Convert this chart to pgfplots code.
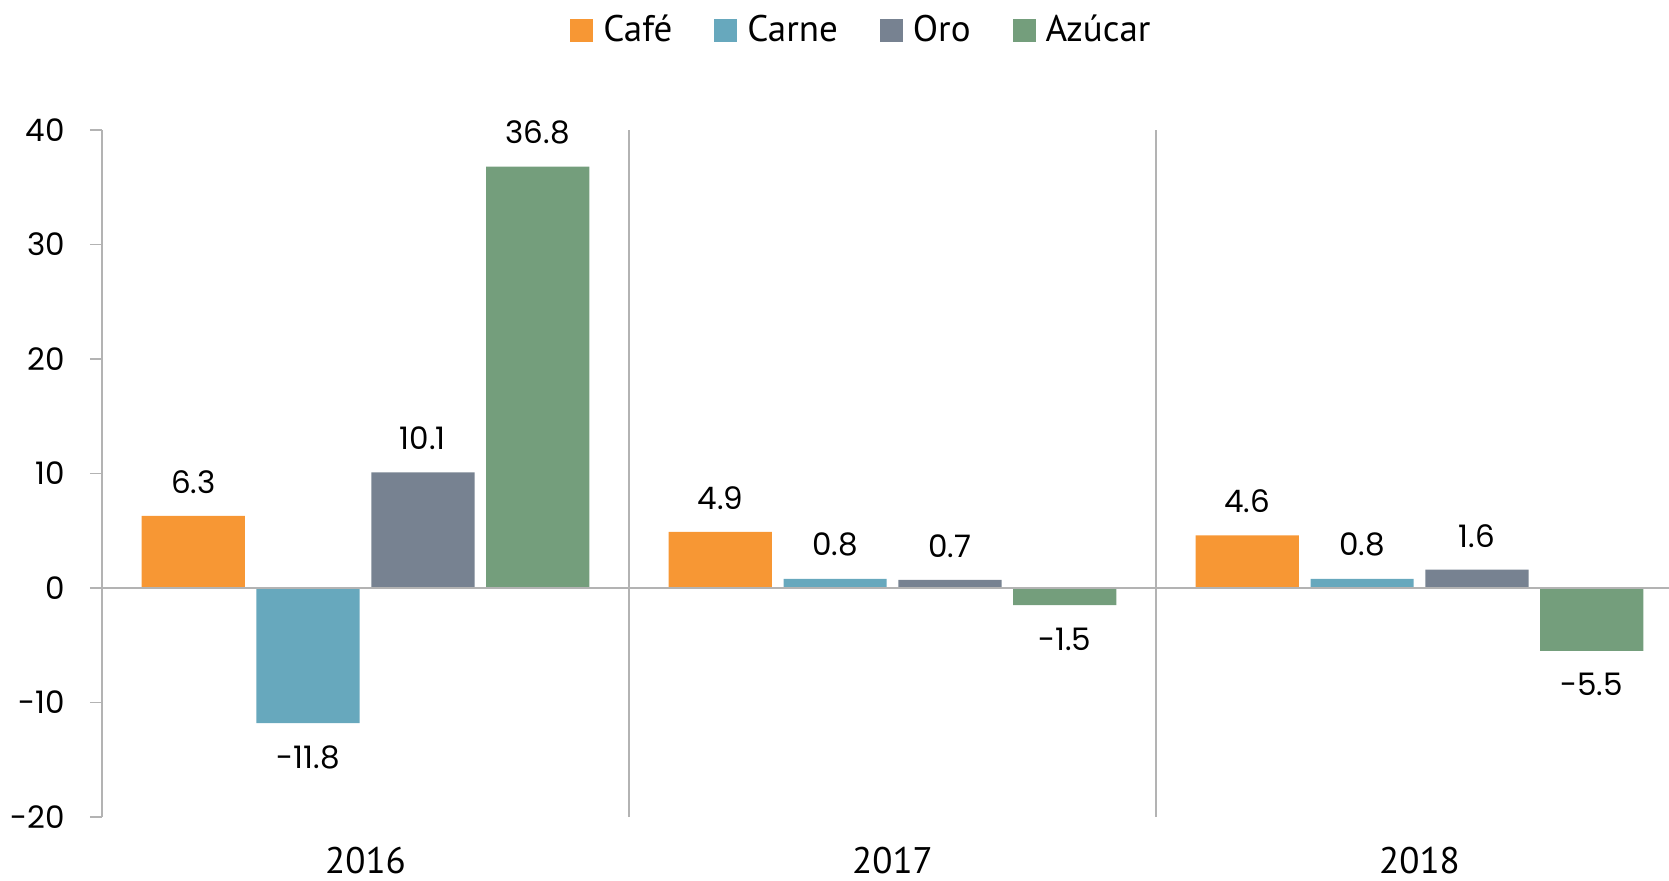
\documentclass[border=0pt]{standalone}
\usepackage{pgfplots}
\pgfplotsset{compat=1.18}
\usepackage{fontspec}
\setmainfont{Poppins}
\newfontfamily\legfont{PT Sans}
\definecolor{cafe}{HTML}{F79734}
\definecolor{carne}{HTML}{67A8BD}
\definecolor{oro}{HTML}{778291}
\definecolor{azucar}{HTML}{749E7C}
\definecolor{axgray}{HTML}{B3B3B3}
\pgfplotsset{sq legend/.style={legend image code/.code={\fill[##1,draw=none] (0bp,-5.75bp) rectangle (11.5bp,5.75bp);}}}
\begin{document}
\begin{tikzpicture}
\begin{axis}[
  scale only axis,
  width=790.5bp, height=343.5bp,
  at={(0,0)}, anchor=south west,
  xmin=-0.5, xmax=2.5, ymin=-20, ymax=40,
  ybar=5.8bp, bar width=51.6bp,
  axis y line*=left, axis x line*=bottom,
  x axis line style={draw=none},
  y axis line style={axgray, line width=0.8bp},
  ytick={-20,-10,0,10,20,30,40},
  ytick style={axgray, line width=0.8bp},
  tick align=outside, major tick length=6bp,
  yticklabel style={font=\fontsize{15.5bp}{18bp}\selectfont, anchor=east, xshift=-9bp},
  xtick={0.5,1.5}, xticklabels={},
  xtick style={draw=none},
  xmajorgrids, major grid style={axgray, line width=0.8bp},
  extra x ticks={0,1,2}, extra x tick labels={2016,2017,2018},
  extra x tick style={grid=none, xtick style={draw=none}},
  xticklabel style={font=\legfont\fontsize{18.5bp}{22bp}\selectfont, anchor=center, inner sep=0pt, yshift=-16bp},
  /pgf/number format/assume math mode=true,
  nodes near coords,
  nodes near coords align={vertical},
  point meta=y,
  every node near coord/.append style={font=\fontsize{15.5bp}{18bp}\selectfont, black, inner xsep=0pt, inner ysep=11bp,
    /pgf/number format/.cd, fixed, fixed zerofill, precision=1, assume math mode=true},
  legend style={at={(0.481,1.1455)}, anchor=center, legend columns=4, draw=none, fill=none,
    font=\legfont\fontsize{18.5bp}{22bp}\selectfont,
    /tikz/every even column/.append style={column sep=19bp},
    /tikz/every odd column/.append style={column sep=3bp}},
  legend cell align=left,
  clip=false,
]
\addplot[fill=cafe, draw=none, sq legend] coordinates {(0,6.3) (1,4.9) (2,4.6)};
\addplot[fill=carne, draw=none, sq legend] coordinates {(0,-11.8) (1,0.8) (2,0.8)};
\addplot[fill=oro, draw=none, sq legend] coordinates {(0,10.1) (1,0.7) (2,1.6)};
\addplot[fill=azucar, draw=none, sq legend] coordinates {(0,36.8) (1,-1.5) (2,-5.5)};
\legend{Café, Carne, Oro, Azúcar}
\draw[axgray, line width=0.8bp] (axis cs:-0.5,0) -- (axis cs:2.5,0);
\end{axis}
\pgfresetboundingbox
\useasboundingbox (-51bp,-32bp) rectangle (783.5bp,408.5bp);
\end{tikzpicture}
\end{document}
